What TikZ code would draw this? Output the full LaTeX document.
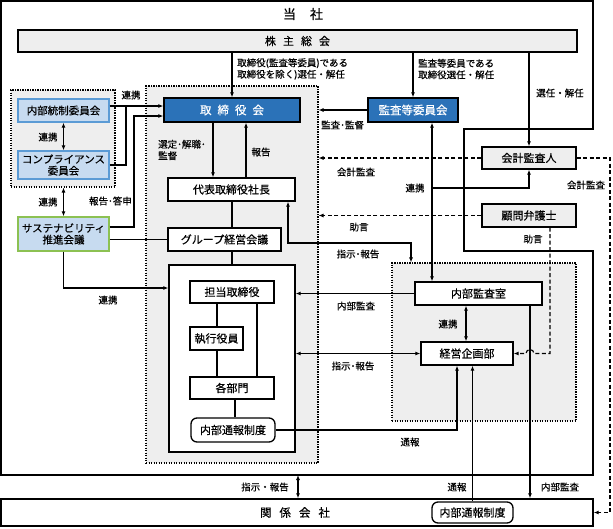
\documentclass[tikz,border=0pt]{standalone}
\usepackage{fontspec}
\setmainfont{Noto Sans CJK JP}[FakeBold=0.4]
\usetikzlibrary{arrows.meta}
\definecolor{bgray}{HTML}{EEEEEE}
\definecolor{dblue}{HTML}{2B72B8}
\definecolor{lblue}{HTML}{C7DBF0}
\definecolor{lbord}{HTML}{5B9BD5}
\definecolor{gbord}{HTML}{8CC152}
\begin{document}
\begin{tikzpicture}[x=1pt,y=-1pt,
  box/.style={draw, line width=1.3pt, fill=white, inner sep=0pt, align=center, font=\fontsize{11}{12.5}\selectfont},
  bluebox/.style={box, fill=dblue, text=white, font=\fontsize{11.5}{12.5}\selectfont},
  lbbox/.style={box, fill=lblue, draw=lbord, font=\fontsize{10.5}{11.5}\selectfont},
  gbbox/.style={box, fill=lblue, draw=gbord, font=\fontsize{10.5}{11.5}\selectfont},
  dotbox/.style={draw, fill=bgray, line width=1.1pt, dash pattern=on 1.4pt off 1.1pt, inner sep=0pt},
  ln/.style={line width=1.1pt},
  arr/.style={ln, -{Latex[length=5pt,width=4pt]}},
  darr/.style={ln, {Latex[length=5pt,width=4pt]}-{Latex[length=5pt,width=4pt]}},
  dsh/.style={dash pattern=on 4pt off 2.5pt},
  lbl/.style={inner sep=0pt, font=\fontsize{9.5}{11.5}\selectfont, align=left}
]
\useasboundingbox (0,0) rectangle (613,528);

% helper coordinates
\coordinate (x213) at (213,0); \coordinate (x217) at (217,0);
\coordinate (x232) at (232,0); \coordinate (x235) at (235,0);
\coordinate (x246) at (246,0); \coordinate (x257) at (257,0);
\coordinate (x288) at (288,0); \coordinate (x411) at (411,0);
\coordinate (x432) at (432,0); \coordinate (x457) at (457,0);
\coordinate (x466) at (466,0); \coordinate (x530) at (530,0);
\coordinate (x550) at (550,0); \coordinate (x610) at (610,0);
\coordinate (y106) at (0,106); \coordinate (y116) at (0,116);
\coordinate (y188) at (0,188); \coordinate (y227) at (0,227);
\coordinate (y243) at (0,243); \coordinate (y288) at (0,288);
\coordinate (j1) at (126,106); \coordinate (j2) at (134,227);

% company outline
\draw[line width=1.4pt] (1,1) -- (593,1) -- (593,129) -- (464,129) -- (464,251) -- (593,251) -- (593,475) -- (1,475) -- cycle;
\coordinate (tb) at (298,475);
\node[font=\fontsize{13}{14}\selectfont, inner sep=0pt] (title) at (303,14) {当\hspace{14pt}社};

% grouping boxes
\node[dotbox, minimum width=104, minimum height=97] (lgrp) at (63,138.5) {};
\node[dotbox, minimum width=172, minimum height=377] (gbox) at (232,274.5) {};
\node[dotbox, minimum width=184, minimum height=158] (ibox) at (484,342) {};

% nodes
\node[box, fill=bgray, minimum width=559, minimum height=22] (sh) at (297.5,41) {株\hspace{7pt}主\hspace{7pt}総\hspace{7pt}会};
\node[bluebox, minimum width=136, minimum height=24] (bod) at (232,110) {取\hspace{6pt}締\hspace{6pt}役\hspace{6pt}会};
\node[bluebox, minimum width=90, minimum height=24] (ac) at (413,110) {監査等委員会};
\node[box, fill=bgray, minimum width=94, minimum height=22] (ca) at (529,158) {会計監査人};
\node[box, fill=bgray, minimum width=94, minimum height=23] (lw) at (529,215.5) {顧問弁護士};
\node[lbbox, minimum width=91, minimum height=23] (icc) at (63.5,110.5) {内部統制委員会};
\node[lbbox, minimum width=91, minimum height=28] (cc) at (63.5,165) {コンプライアンス\\委員会};
\node[gbbox, minimum width=91, minimum height=34] (sc) at (63.5,234) {サステナビリティ\\推進会議};
\node[box, minimum width=127, minimum height=23] (pres) at (231.5,189.5) {代表取締役社長};
\node[box, minimum width=113, minimum height=23] (gm) at (224.5,239.5) {グループ経営会議};
\node[box, minimum width=126, minimum height=187] (cont) at (232,358.5) {};
\node[box, minimum width=84, minimum height=22] (td) at (232,292) {担当取締役};
\node[box, minimum width=53, minimum height=23] (eo) at (216.5,338.5) {執行役員};
\node[box, minimum width=84, minimum height=22] (dept) at (232,388) {各部門};
\node[box, rounded corners=6pt, minimum width=84, minimum height=24] (wb1) at (233,430) {内部通報制度};
\node[box, minimum width=127, minimum height=23] (ia) at (478.5,293.5) {内部監査室};
\node[box, minimum width=92, minimum height=23] (kp) at (467,353.5) {経営企画部};
\node[box, line width=1.4pt, minimum width=592, minimum height=27] (rc) at (297,512.5) {};
\node[font=\fontsize{11.5}{12.5}\selectfont, inner sep=0pt] (rctext) at (295,512.5) {関\hspace{8pt}係\hspace{8pt}会\hspace{8pt}社};
\node[box, rounded corners=6pt, minimum width=81, minimum height=21] (wb2) at (472.5,512.5) {内部通報制度};

% connectors
\draw[arr] (sh.south -| bod.north) -- (bod.north);
\draw[arr] (sh.south -| ac.north) -- (ac.north);
\draw[arr] (sh.south -| ca.north) -- (ca.north);
\draw[arr] (ac.west) -- (ac.west -| gbox.east);
\draw[darr] (x432 |- ac.south) -- (x432 |- ia.north);
\draw[arr] (x432 |- y188) -| (ca.south);
\draw[arr, dsh] (ca.west) -- (ca.west -| gbox.east);
\draw[arr, dsh] (ca.east) -- (x610 |- ca.east) -- (x610 |- rc.east) -- (rc.east);
\draw[arr, dsh] (lw.west) -- (lw.west -| gbox.east);
\draw[arr, dsh] (x550 |- lw.south) -- (x550 |- kp.east) -- ([xshift=4pt]x530 |- kp.east) arc[start angle=0, end angle=180, radius=4pt] -- (kp.east);
\draw[arr] (icc.east |- y106) -- (bod.west |- y106);
\draw[ln] (cc.east) -| (j1);
\draw[arr] (sc.east |- j2) -- (j2) |- (bod.west |- y116);
\draw[ln] (sc.east |- gm.west) -- (gm.west);
\draw[arr] (sc.south) |- (cont.west |- y288);
\draw[darr] (icc.south) -- (cc.north);
\draw[darr] (lgrp.south -| sc.north) -- (sc.north);
\draw[arr] (x213 |- bod.south) -- (x213 |- pres.north);
\draw[arr] (x246 |- pres.north) -- (x246 |- bod.south);
\draw[ln] (x232 |- pres.south) -- (x232 |- gm.north);
\draw[ln] (x232 |- gm.south) -- (cont.north);
\draw[darr] (x288 |- pres.south) |- (x411 |- y243) -- (x411 |- ibox.north);
\draw[arr] (ia.west) -- (ia.west -| cont.east);
\draw[darr] (kp.west) -- (kp.west -| cont.east);
\draw[arr] (x530 |- ia.south) -- (x530 |- rc.north);
\draw[arr] (wb1.east) -| (x457 |- kp.south);
\draw[arr] (wb2.north) -- (wb2.north |- kp.south);
\draw[darr] (tb) -- (tb |- rc.north);
\draw[darr] (x466 |- ia.south) -- (x466 |- kp.north);
\draw[ln] (x217 |- td.south) -- (x217 |- eo.north);
\draw[ln] (x217 |- eo.south) -- (x217 |- dept.north);
\draw[ln] (x257 |- td.south) -- (x257 |- dept.north);
\draw[ln] (x235 |- dept.south) -- (x235 |- wb1.north);

% labels
\node[lbl, anchor=west] (l1) at (237,69) {取締役(監査等委員)である\\取締役を除く)選任・解任};
\node[lbl, anchor=west] (l2) at (418,69) {監査等委員である\\取締役選任・解任};
\node[lbl] (l3) at (560,93) {選任・解任};
\node[lbl, anchor=west] (l4) at (321,125) {監査･監督};
\node[lbl] (l5) at (356,172) {会計監査};
\node[lbl] (l6) at (586,185) {会計監査};
\node[lbl] (l7) at (415,188) {連携};
\node[lbl] (l8) at (359,227) {助言};
\node[lbl] (l9) at (533,239) {助言};
\node[lbl] (l10) at (358,254) {指示･報告};
\node[lbl] (l11) at (356,306) {内部監査};
\node[lbl] (l12) at (448,324) {連携};
\node[lbl] (l13) at (353,366) {指示･報告};
\node[lbl] (l14) at (410,442) {通報};
\node[lbl] (l15) at (457,487) {通報};
\node[lbl] (l16) at (560,487) {内部監査};
\node[lbl] (l17) at (265,487) {指示・報告};
\node[lbl] (l18) at (131,95) {連携};
\node[lbl] (l19) at (48,137) {連携};
\node[lbl] (l20) at (48,202) {連携};
\node[lbl, anchor=east] (l21) at (132,201) {報告･答申};
\node[lbl] (l22) at (108,300) {連携};
\node[lbl, anchor=west] (l23) at (158,150) {選定･解職･\\監督};
\node[lbl] (l24) at (261,152) {報告};
\end{tikzpicture}
\end{document}
